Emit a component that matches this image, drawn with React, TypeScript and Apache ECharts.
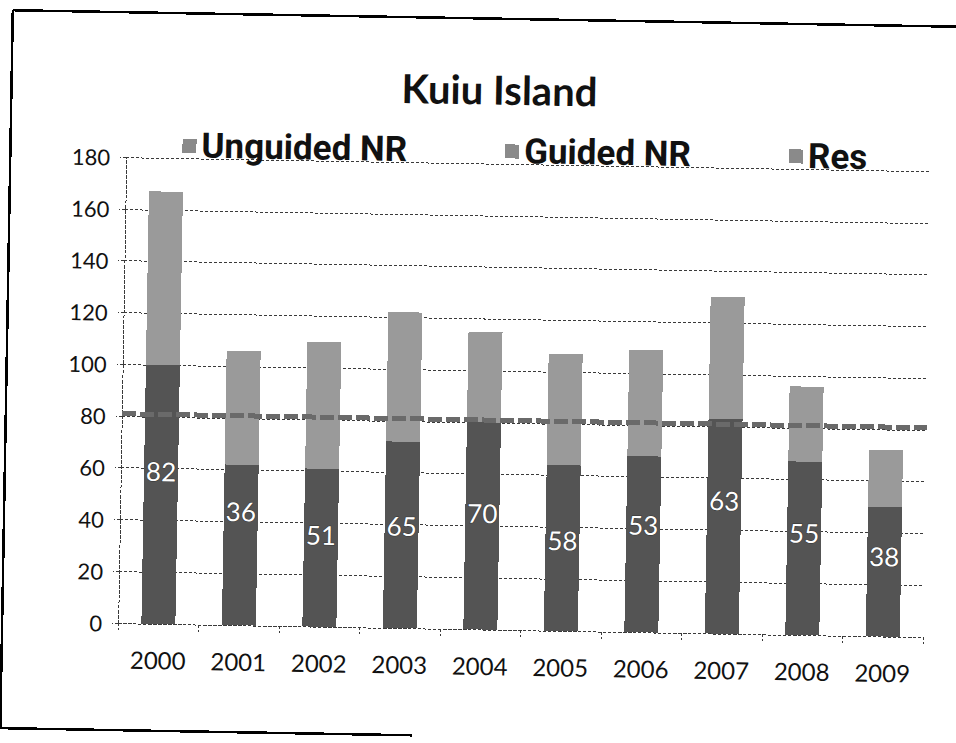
import React, { useEffect, useRef } from "react";
import * as echarts from "echarts";

const years = ["2000", "2001", "2002", "2003", "2004", "2005", "2006", "2007", "2008", "2009"];
const resValues = [18, 26, 10, 7, 10, 6, 15, 20, 12, 12];
const guidedValues = [82, 36, 51, 65, 70, 58, 53, 63, 55, 38];
const unguidedValues = [67, 44, 49, 50, 35, 43, 41, 47, 29, 22];
const referenceLine = [81];
const yMin = 0;
const yMax = 180;
const yStep = 20;

const DARK = "#545454";
const LIGHT = "#9a9a9a";
const LEGEND_ICON = "#8a8a8a";
const GRID_LINE = { color: "#3a3a3a", type: [3, 2] as number[], width: 1 };
const FRAME = { stroke: "#000", lineWidth: 2.5 };

export default function App() {
  const ref = useRef<HTMLDivElement>(null);

  useEffect(() => {
    if (!ref.current) return;
    const chart = echarts.init(ref.current, undefined, { renderer: "svg" });
    chart.setOption({
      animation: false,
      backgroundColor: "transparent",
      title: {
        text: "Kuiu Island",
        left: 496,
        textAlign: "center",
        top: 56,
        textStyle: { fontFamily: "Lato", fontWeight: "bold", fontSize: 40, color: "#111" },
      },
      legend: {
        left: 180,
        top: 120,
        itemGap: 98,
        itemWidth: 14,
        itemHeight: 14,
        icon: "rect",
        itemStyle: { color: LEGEND_ICON, borderWidth: 0 },
        textStyle: {
          fontFamily: "Roboto",
          fontWeight: "bold",
          fontSize: 35,
          color: "#111",
        },
        data: ["Unguided NR", "Guided NR", "Res"],
      },
      grid: { left: 129, top: 155, width: 805, height: 466, containLabel: false },
      xAxis: {
        type: "category",
        data: years,
        axisLine: { show: true, lineStyle: GRID_LINE },
        axisTick: { show: true, length: 7, lineStyle: GRID_LINE },
        axisLabel: { fontFamily: "Lato", fontSize: 24, color: "#111", margin: 24 },
      },
      yAxis: {
        type: "value",
        min: yMin,
        max: yMax,
        interval: yStep,
        axisLine: { show: true, lineStyle: GRID_LINE },
        axisTick: { show: true, length: 6, lineStyle: GRID_LINE },
        splitLine: { show: true, lineStyle: GRID_LINE },
        axisLabel: { fontFamily: "Lato", fontSize: 22, color: "#111", margin: 16 },
      },
      graphic: [
        { type: "line", shape: { x1: 13, y1: 10, x2: 1100, y2: 10 }, style: FRAME, silent: true },
        { type: "line", shape: { x1: 13, y1: 10, x2: 13, y2: 728 }, style: FRAME, silent: true },
        { type: "line", shape: { x1: 13, y1: 728, x2: 425, y2: 728 }, style: FRAME, silent: true },
      ],
      series: [
        {
          name: "Res",
          type: "bar",
          stack: "total",
          barWidth: 34,
          itemStyle: { color: DARK },
          data: resValues,
        },
        {
          name: "Guided NR",
          type: "bar",
          stack: "total",
          barWidth: 34,
          itemStyle: { color: DARK },
          label: {
            show: true,
            position: "inside",
            fontFamily: "Lato",
            fontSize: 26,
            color: "#fff",
            textBorderColor: "#333",
            textBorderWidth: 1,
          },
          data: guidedValues,
        },
        {
          name: "Unguided NR",
          type: "bar",
          stack: "total",
          barWidth: 34,
          itemStyle: { color: LIGHT },
          data: unguidedValues,
          markLine: {
            silent: true,
            symbol: ["none", "none"],
            label: { show: false },
            lineStyle: { color: "#6a6a6a", type: [14, 4], width: 5 },
            data: referenceLine.map((v) => ({ yAxis: v })),
            z: 10,
          },
        },
      ],
    });
    return () => chart.dispose();
  }, []);

  return (
    <div
      style={{
        position: "fixed",
        left: 0,
        top: 0,
        width: 956,
        height: 743,
        overflow: "hidden",
        background: "#fff",
      }}
    >
      <div
        ref={ref}
        style={{
          position: "absolute",
          left: 0,
          top: 0,
          width: 1000,
          height: 760,
          transformOrigin: "0 0",
          transform: "rotate(1deg)",
          shapeRendering: "crispEdges",
        } as React.CSSProperties}
      />
    </div>
  );
}
